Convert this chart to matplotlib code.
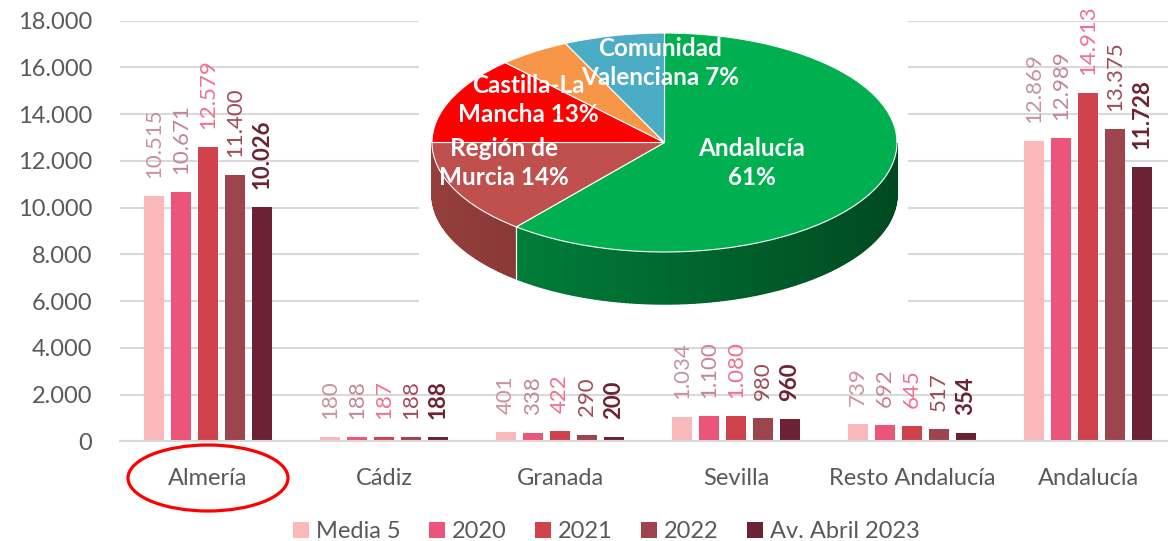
import numpy as np
import matplotlib.pyplot as plt
from matplotlib.patches import Ellipse, Polygon
from matplotlib.ticker import FuncFormatter
from matplotlib.colors import to_rgb

plt.rcParams['font.family'] = ['Lato', 'DejaVu Sans']

# bar chart data
provincias = ['Almería', 'Cádiz', 'Granada', 'Sevilla', 'Resto Andalucía', 'Andalucía']
series = ['Media 5', '2020', '2021', '2022', 'Av. Abril 2023']
media5 = [10515, 180, 401, 1034, 739, 12869]
v2020 = [10671, 188, 338, 1100, 692, 12989]
v2021 = [12579, 187, 422, 1080, 645, 14913]
v2022 = [11400, 188, 290, 980, 517, 13375]
v2023 = [10026, 188, 200, 960, 354, 11728]

# pie data
pie_names = ['Andalucía', 'Región de Murcia', 'Castilla-La Mancha', 'Otras', 'Comunidad Valenciana']
pie_values = [61, 14, 13, 5, 7]
pie_labels = ['Andalucía\n61%', 'Región de\nMurcia 14%', 'Castilla-La\nMancha 13%', '', 'Comunidad\nValenciana 7%']

bar_colors = ['#fab9b9', '#ec547a', '#d0434e', '#9e444e', '#6b2235']
label_colors = ['#c9929f', '#c48594', '#f07090', '#a04a58', '#6b2235']
pie_colors = ['#00b050', '#c0504d', '#ff0000', '#f79646', '#4bacc6']
# label spots inside the pie (pie units)
pie_label_pos = [(0.375, -0.19), (-0.69, -0.19), (-0.587, 0.39), None, (-0.019, 0.726)]

W, H = 1168, 541
fig = plt.figure(figsize=(W / 100, H / 100), dpi=100)
fig.patch.set_facecolor('white')

# main bar axes
ax = fig.add_axes([120 / W, 1 - 441.3 / H, 1056 / W, 420.6 / H])
x = np.arange(len(provincias))
pitch, width = 0.1534, 0.119
values = [media5, v2020, v2021, v2022, v2023]
bars = []
for i, (vals, col) in enumerate(zip(values, bar_colors)):
    pos = x + (i - 2) * pitch
    b = ax.bar(pos, vals, width=width, color=col, zorder=2)
    bars.append(b)
    for p, v in zip(pos, vals):
        ax.annotate(f"{v:,}".replace(',', '.'), (p, v), xytext=(0, 13),
                    textcoords='offset points', rotation=90, ha='center', va='bottom',
                    fontsize=16, color=label_colors[i],
                    fontweight='bold' if i == 4 else 'normal', zorder=3)

ax.set_xlim(-0.5, 5.5)
ax.set_ylim(0, 18000)
ax.set_yticks(range(0, 18001, 2000))
ax.yaxis.set_major_formatter(FuncFormatter(lambda v, _: f"{int(v):,}".replace(',', '.')))
ax.set_xticks(x)
ax.set_xticklabels(provincias)
ax.grid(axis='y', color='#d9d9d9', linewidth=1.5, zorder=0)
ax.set_axisbelow(True)
for s in ['top', 'right', 'left']:
    ax.spines[s].set_visible(False)
ax.spines['bottom'].set_color('#d9d9d9')
ax.spines['bottom'].set_linewidth(1.5)
ax.tick_params(axis='y', length=0, pad=20, labelsize=17, labelcolor='#595959')
ax.tick_params(axis='x', length=0, pad=19, labelsize=17, labelcolor='#595959')

# 3D-looking pie pasted on top
px0, px1, py0, py1 = 419, 908, 0, 325
cx, cy, a, b = 664.5, 142.5, 232.5, 109.5
pax = fig.add_axes([px0 / W, 1 - py1 / H, (px1 - px0) / W, (py1 - py0) / H])
wedges, _ = pax.pie(pie_values, colors=pie_colors, startangle=90, counterclock=False,
                    radius=1, frame=True,
                    wedgeprops=dict(edgecolor='white', linewidth=0.8, zorder=4))
pax.set_aspect('auto')
pax.set_xlim((px0 - cx) / a, (px1 - cx) / a)
pax.set_ylim((cy - py1) / b, (cy - py0) / b)
pax.set_xticks([])
pax.set_yticks([])
for s in pax.spines.values():
    s.set_visible(False)
pax.set_facecolor('white')

depth = 52 / b
for w, col in zip(wedges, pie_colors):
    base = np.array(to_rgb(col))
    angs = np.linspace(w.theta1, w.theta2, max(int(w.theta2 - w.theta1), 2) + 1)
    rad = np.deg2rad(angs)
    front = np.sin(rad) <= 0
    if front.sum() < 2:
        continue
    # solid underlay for the side so the shaded strips leave no seams
    fr = rad[front]
    under = np.concatenate([np.column_stack([np.cos(fr), np.sin(fr)]),
                            np.column_stack([np.cos(fr[::-1]), np.sin(fr[::-1]) - depth])])
    uc = np.clip(base * 0.6, 0, 1)
    pax.add_patch(Polygon(under, closed=True, facecolor=uc, edgecolor='none', zorder=1))
    for t0, t1 in zip(angs[:-1], angs[1:]):
        m = np.deg2rad((t0 + t1) / 2)
        if np.sin(m) >= 0:
            continue
        r0, r1 = np.deg2rad(t0), np.deg2rad(t1)
        f = 0.78 - 0.36 * (np.cos(m) + 1) / 2
        c = np.clip(base * f, 0, 1)
        poly = Polygon([(np.cos(r0), np.sin(r0)), (np.cos(r1), np.sin(r1)),
                        (np.cos(r1), np.sin(r1) - depth), (np.cos(r0), np.sin(r0) - depth)],
                       closed=True, facecolor=c, edgecolor=c, linewidth=1.0, zorder=2)
        pax.add_patch(poly)
    for t in (w.theta1, w.theta2):
        r = np.deg2rad(t)
        if np.sin(r) < -0.05:
            pax.plot([np.cos(r), np.cos(r)], [np.sin(r), np.sin(r) - depth],
                     color='white', linewidth=0.8, zorder=3)

for lab, pos in zip(pie_labels, pie_label_pos):
    if pos is None or not lab:
        continue
    pax.text(pos[0], pos[1], lab, ha='center', va='center', color='white',
             fontweight='bold', fontsize=17.5, linespacing=1.3, zorder=5)

# red ellipse around Almería
fig.add_artist(Ellipse((208 / W, 1 - 478 / H), 160 / W, 66 / H, transform=fig.transFigure,
                       fill=False, edgecolor='#ff0000', linewidth=2.3))

fig.legend([bb[0] for bb in bars], series, loc='center', ncol=5,
           bbox_to_anchor=(606.5 / W, 1 - 532 / H), frameon=False, fontsize=17,
           handlelength=0.68, handleheight=0.68, handletextpad=0.3, columnspacing=1.2,
           labelcolor='#595959')

fig.savefig('out.png', dpi=100)
